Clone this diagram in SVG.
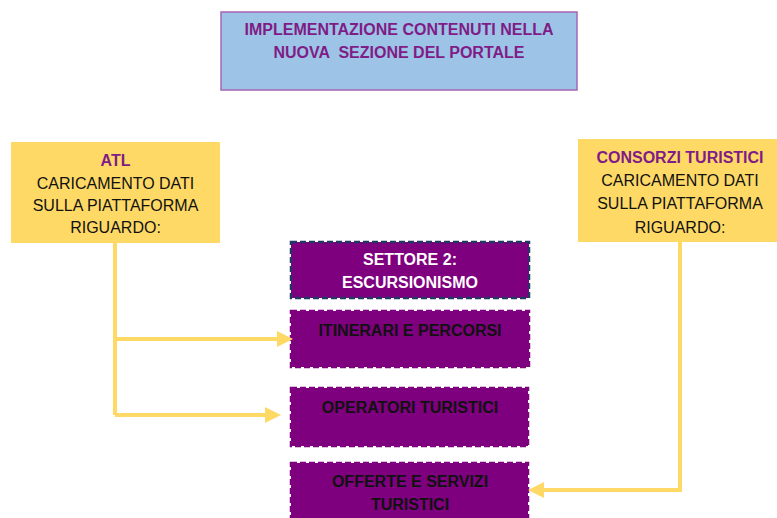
<svg xmlns="http://www.w3.org/2000/svg" width="777" height="518" viewBox="0 0 777 518">
<style>
.t{font-family:"Liberation Sans",Arial,sans-serif;font-size:16px;text-anchor:middle;dominant-baseline:central}
.b{font-weight:bold}
.pur{fill:#7F1C86}
.blk{fill:#111}
.wht{fill:#fff}
.yel{fill:#FFD966}
.box{fill:#7F007F;stroke:#7F007F;stroke-width:2.5;stroke-dasharray:6 3}
.conn{fill:none;stroke:#FFD966;stroke-width:4}
</style>
<defs>
<marker id="ah" markerWidth="4" markerHeight="4" refX="1.5" refY="2" orient="auto" markerUnits="strokeWidth">
<path d="M0,0 L4,2 L0,4 Z" fill="#FFD966"/>
</marker>
</defs>
<rect width="777" height="518" fill="#fff"/>
<g id="title">
<rect x="221" y="12" width="356" height="78" fill="#9DC3E6" stroke="#A664B4" stroke-width="1.5"/>
<text class="t b pur" x="399" y="29">IMPLEMENTAZIONE CONTENUTI NELLA</text>
<text class="t b pur" x="399" y="52" xml:space="preserve">NUOVA  SEZIONE DEL PORTALE</text>
</g>
<g id="atl">
<rect class="yel" x="11" y="142" width="209" height="101"/>
<text class="t b pur" x="115.5" y="160">ATL</text>
<text class="t blk" x="115.5" y="183">CARICAMENTO DATI</text>
<text class="t blk" x="115.5" y="205">SULLA PIATTAFORMA</text>
<text class="t blk" x="115.5" y="227">RIGUARDO:</text>
</g>
<g id="consorzi">
<rect class="yel" x="578" y="139" width="204" height="103"/>
<text class="t b pur" x="680" y="157">CONSORZI TURISTICI</text>
<text class="t blk" x="680" y="180">CARICAMENTO DATI</text>
<text class="t blk" x="680" y="203">SULLA PIATTAFORMA</text>
<text class="t blk" x="680" y="227">RIGUARDO:</text>
</g>
<g id="settore">
<rect x="291" y="242" width="238" height="56" fill="#7F007F" stroke="#203864" stroke-width="2.5" stroke-dasharray="6 3"/>
<text class="t b wht" x="410" y="259">SETTORE 2:</text>
<text class="t b wht" x="410" y="282">ESCURSIONISMO</text>
</g>
<g id="itinerari">
<rect class="box" x="291" y="311" width="238" height="56"/>
<text class="t b blk" x="410" y="330">ITINERARI E PERCORSI</text>
</g>
<g id="operatori">
<rect class="box" x="291" y="388" width="237" height="58"/>
<text class="t b blk" x="410" y="407">OPERATORI TURISTICI</text>
</g>
<g id="offerte">
<rect class="box" x="291" y="463" width="237" height="62"/>
<text class="t b blk" x="410" y="481">OFFERTE E SERVIZI</text>
<text class="t b blk" x="410" y="504">TURISTICI</text>
</g>
<g id="connectors">
<path class="conn" d="M115,243 V415"/>
<path class="conn" d="M115,339 H283" marker-end="url(#ah)"/>
<path class="conn" d="M115,415 H271" marker-end="url(#ah)"/>
<path class="conn" d="M680,242 V490 H538" marker-end="url(#ah)"/>
</g>
</svg>
